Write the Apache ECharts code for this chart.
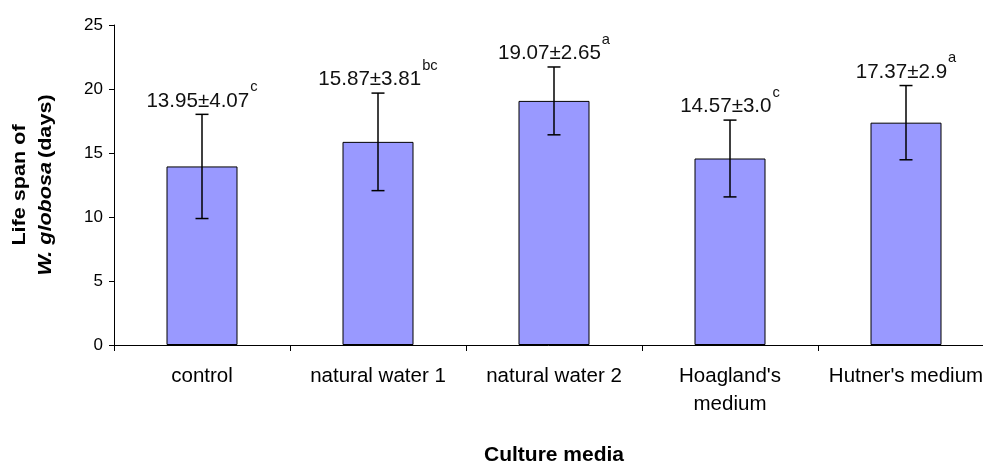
<!DOCTYPE html>
<html>
<head>
<meta charset="utf-8">
<script src="https://cdn.jsdelivr.net/npm/echarts@6/dist/echarts.min.js"></script>
<style>
  html, body { margin: 0; padding: 0; background: #fff; }
  #chart { width: 983px; height: 463px; }
</style>
</head>
<body>
<div id="chart"></div>
<script>
// Culture media and the mean life span (days) measured in each
const categories = ['control', 'natural water 1', 'natural water 2', "Hoagland's\nmedium", "Hutner's medium"];
const meanLabels = ['13.95', '15.87', '19.07', '14.57', '17.37'];
const sdLabels = ['4.07', '3.81', '2.65', '3.0', '2.9'];
const groupLetters = ['c', 'bc', 'a', 'c', 'a'];
const yTicks = [0, 5, 10, 15, 20, 25];

const means = meanLabels.map(Number);
const sds = sdLabels.map(Number);

const FONT = '"Liberation Sans", Arial, Helvetica, sans-serif';
const LABEL_SIZE = 21;
const SUP_SIZE = 15;
const SQUEEZE = 0.98;

// measure text widths so the superscript letter follows the value text
const measureCtx = document.createElement('canvas').getContext('2d');
function textWidth(str, size) {
  measureCtx.font = size + 'px ' + FONT;
  return measureCtx.measureText(str).width;
}

const chart = echarts.init(document.getElementById('chart'), null, { renderer: 'canvas' });

const option = {
  animation: false,
  backgroundColor: '#ffffff',
  grid: { left: 114, top: 25, width: 880, height: 320, containLabel: false, outerBoundsMode: 'none' },
  // rotated two-line y-axis title, slightly stretched along its length
  graphic: [
    {
      type: 'text',
      x: 33,
      y: 185,
      rotation: Math.PI / 2,
      scaleX: 1.2,
      style: {
        text: '{b|Life span of}\n{i|W. globosa} {b|(days)}',
        align: 'center',
        verticalAlign: 'middle',
        rich: {
          b: { fontFamily: FONT, fontWeight: 'bold', fontSize: 18, fill: '#000', lineHeight: 26, align: 'center' },
          i: { fontFamily: FONT, fontWeight: 'bold', fontStyle: 'italic', fontSize: 18, fill: '#000', lineHeight: 26, align: 'center' }
        }
      }
    }
  ],
  xAxis: {
    type: 'category',
    data: categories,
    boundaryGap: true,
    name: 'Culture media',
    nameLocation: 'middle',
    nameGap: 100,
    nameTextStyle: { fontFamily: FONT, fontWeight: 'bold', fontSize: 21, color: '#000', lineHeight: 20 },
    axisLine: { lineStyle: { color: '#000', width: 1 } },
    axisTick: { show: true, interval: 0, length: 6, lineStyle: { color: '#000' } },
    axisLabel: { interval: 0, margin: 17, fontFamily: FONT, fontSize: 20.5, color: '#000', lineHeight: 28, hideOverlap: false },
    splitLine: { show: false }
  },
  yAxis: {
    type: 'value',
    min: yTicks[0],
    max: yTicks[yTicks.length - 1],
    interval: yTicks[1] - yTicks[0],
    axisLine: { show: true, lineStyle: { color: '#000', width: 1 } },
    axisTick: { show: true, length: 5, lineStyle: { color: '#000' } },
    axisLabel: { margin: 11, fontFamily: FONT, fontSize: 17, color: '#000' },
    splitLine: { show: false }
  },
  series: [
    {
      type: 'bar',
      data: means,
      barWidth: 71,
      itemStyle: { color: '#9999ff', borderColor: '#000', borderWidth: 1 },
      z: 2
    },
    {
      type: 'custom',
      z: 5,
      data: means.map((m, i) => [i, m, sds[i]]),
      renderItem: function (params, api) {
        const idx = params.dataIndex;
        const i = api.value(0), m = api.value(1), s = api.value(2);
        const top = api.coord([i, m + s]);
        const bot = api.coord([i, m - s]);
        const cx = top[0];
        const capHalf = 6.5;
        const lineStyle = { stroke: '#000', lineWidth: 1.5 };

        const mainText = meanLabels[idx] + '±' + sdLabels[idx];
        const supText = groupLetters[idx];
        const mw = textWidth(mainText, LABEL_SIZE);
        const sw = textWidth(supText, SUP_SIZE);
        const total = mw + 1 + sw;

        return {
          type: 'group',
          children: [
            { type: 'line', shape: { x1: cx, y1: top[1], x2: cx, y2: bot[1] }, style: lineStyle },
            { type: 'line', shape: { x1: cx - capHalf, y1: top[1], x2: cx + capHalf, y2: top[1] }, style: lineStyle },
            { type: 'line', shape: { x1: cx - capHalf, y1: bot[1], x2: cx + capHalf, y2: bot[1] }, style: lineStyle },
            {
              type: 'group',
              x: cx,
              y: top[1],
              scaleX: SQUEEZE,
              children: [
                {
                  type: 'text',
                  x: -total / 2,
                  y: -13.6,
                  style: {
                    text: mainText, fontFamily: FONT, fontSize: LABEL_SIZE, fill: '#111',
                    align: 'left', verticalAlign: 'middle'
                  }
                },
                {
                  type: 'text',
                  x: -total / 2 + mw + 1,
                  y: -27.4,
                  style: {
                    text: supText, fontFamily: FONT, fontSize: SUP_SIZE, fill: '#111',
                    align: 'left', verticalAlign: 'middle'
                  }
                }
              ]
            }
          ]
        };
      }
    }
  ]
};

chart.setOption(option);
</script>
</body>
</html>
